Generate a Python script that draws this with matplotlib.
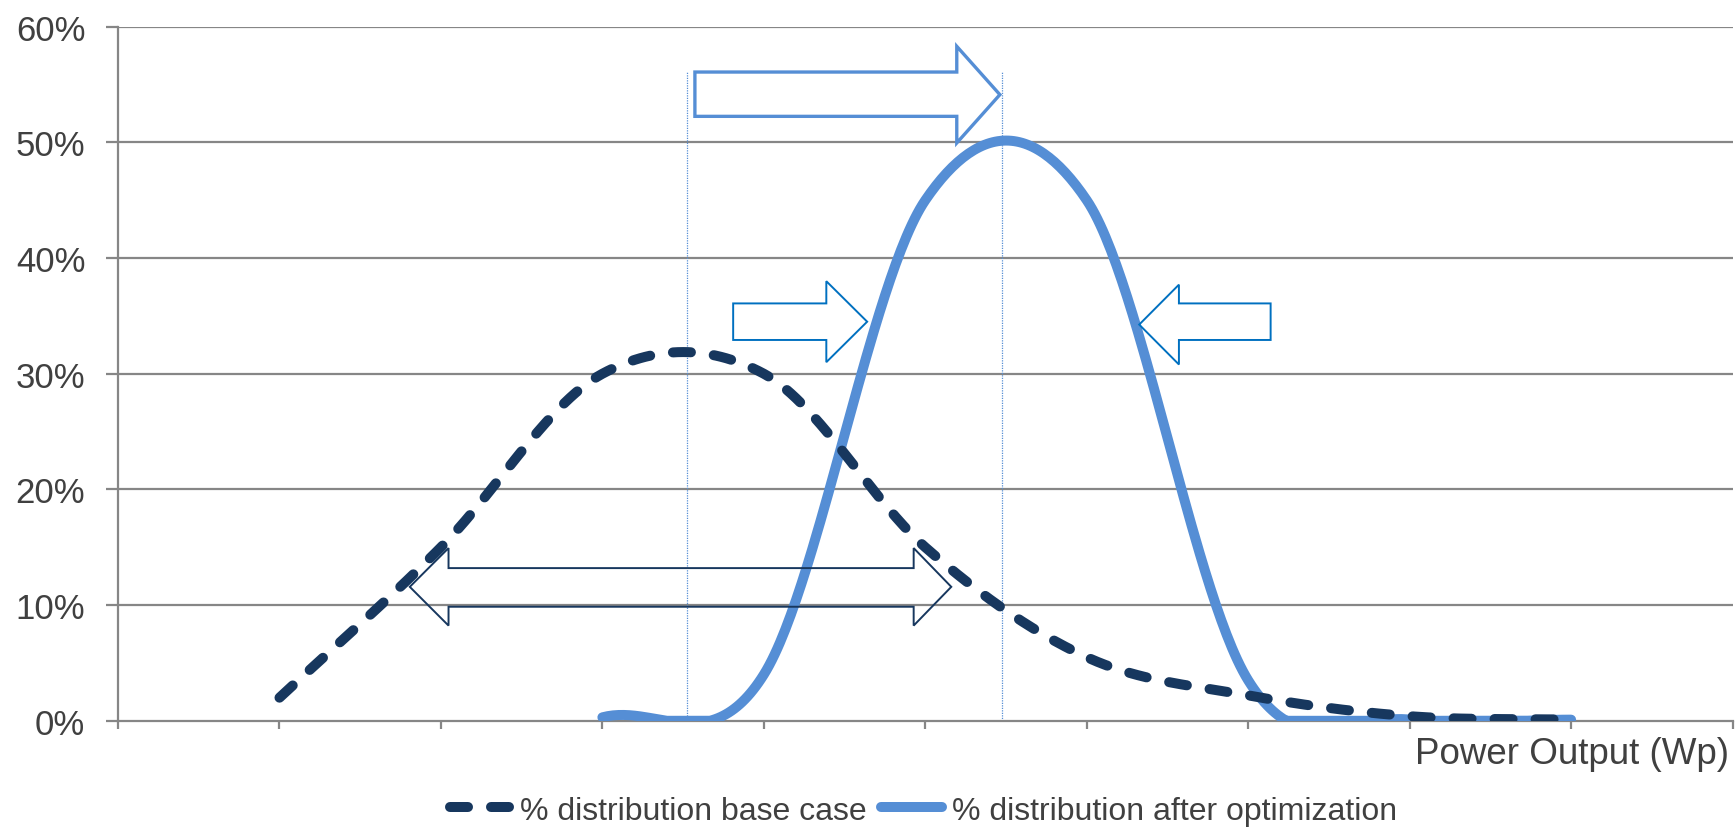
import numpy as np
import matplotlib
matplotlib.use("Agg")
import matplotlib.pyplot as plt
from matplotlib.patches import Polygon
from matplotlib.lines import Line2D

plt.rcParams['font.family'] = ['Liberation Sans', 'DejaVu Sans']

# ---- data ----
x_base = [1, 2, 3, 4, 5, 6, 7, 8, 9]
base_case = [2.0, 15.0, 30.0, 30.0, 15.0, 5.5, 2.2, 0.4, 0.1]          # %
x_opt = [3, 4, 5, 6, 7, 8, 9]
after_opt = [0.3, 4.0, 45.0, 45.0, 3.5, 0.1, 0.1]                       # %
y_ticks = [0, 10, 20, 30, 40, 50, 60]
y_tick_labels = ["0%", "10%", "20%", "30%", "40%", "50%", "60%"]
x_ticks = list(range(0, 11))
series_labels = ["% distribution base case", "% distribution after optimization"]
x_label = "Power Output (Wp)"
mean_base_x = 3.525
mean_opt_x = 5.476

C_DARK = "#17375E"
C_LIGHT = "#558ED5"
C_MID = "#0070C0"
C_GRID = "#868686"
C_TEXT = "#404040"


def smooth(xs, ys, n=60):
    """Excel-style smoothed line (Catmull-Rom / cubic Hermite through points)."""
    xs = np.asarray(xs, float)
    ys = np.asarray(ys, float)
    m = np.zeros_like(ys)
    m[1:-1] = (ys[2:] - ys[:-2]) / (xs[2:] - xs[:-2])
    m[0] = (ys[1] - ys[0]) / (xs[1] - xs[0])
    m[-1] = (ys[-1] - ys[-2]) / (xs[-1] - xs[-2])
    ox, oy = [], []
    for i in range(len(xs) - 1):
        h = xs[i + 1] - xs[i]
        t = np.linspace(0, 1, n, endpoint=(i == len(xs) - 2))
        h00 = 2 * t**3 - 3 * t**2 + 1
        h10 = t**3 - 2 * t**2 + t
        h01 = -2 * t**3 + 3 * t**2
        h11 = t**3 - t**2
        ox.append(xs[i] + t * h)
        oy.append(h00 * ys[i] + h10 * h * m[i] + h01 * ys[i + 1] + h11 * h * m[i + 1])
    return np.concatenate(ox), np.maximum(np.concatenate(oy), 0.0)


def block_arrow(ax, x_start, x_base, x_tip, shaft, head, color, lw, double=False):
    ys0, ys1 = shaft
    yh0, yh1 = head
    ym = (yh0 + yh1) / 2
    if not double:
        verts = [(x_start, ys0), (x_base, ys0), (x_base, yh0), (x_tip, ym),
                 (x_base, yh1), (x_base, ys1), (x_start, ys1)]
    else:
        lb, rb = x_base
        verts = [(x_start, ym), (lb, yh1), (lb, ys1), (rb, ys1), (rb, yh1), (x_tip, ym),
                 (rb, yh0), (rb, ys0), (lb, ys0), (lb, yh0)]
    ax.add_patch(Polygon(verts, closed=True, fill=False, edgecolor=color, lw=lw,
                         joinstyle='miter', zorder=5))


fig = plt.figure(figsize=(17.36, 8.29), dpi=100)
ax = fig.add_axes([0.068, 0.1293, 0.930, 0.8373])

ax.set_xlim(0, 10)
ax.set_ylim(0, 60)

for yv in y_ticks[1:]:
    ax.axhline(yv, color=C_GRID, lw=1.6, zorder=1)

for s in ["top", "right"]:
    ax.spines[s].set_visible(False)
for s in ["left", "bottom"]:
    ax.spines[s].set_color(C_GRID)
    ax.spines[s].set_linewidth(1.6)

ax.set_yticks(y_ticks)
ax.set_yticklabels(y_tick_labels)
ax.set_xticks(x_ticks)
ax.set_xticklabels([])
ax.tick_params(axis='y', length=8.6, width=1.6, color=C_GRID, pad=15,
               labelsize=25, labelcolor=C_TEXT)
ax.tick_params(axis='x', length=6, width=1.6, color=C_GRID)

ax.plot([mean_base_x, mean_base_x], [0, 56.2], color=C_LIGHT, lw=0.9, ls=(0, (1, 1)), zorder=2)
ax.plot([mean_opt_x, mean_opt_x], [0, 56.2], color=C_LIGHT, lw=0.9, ls=(0, (1, 1)), zorder=2)

bx, by = smooth(x_base, base_case)
ox, oy = smooth(x_opt, after_opt)
ax.plot(ox, oy, color=C_LIGHT, lw=7.2, solid_capstyle='round', zorder=3)
ax.plot(bx, by, color=C_DARK, lw=7.2, dashes=(1.8, 2.3), dash_capstyle='round', zorder=4)

block_arrow(ax, 3.573, 5.195, 5.462, (52.25, 56.08), (49.95, 58.3), C_LIGHT, 2.4)
block_arrow(ax, 3.81, 4.387, 4.64, (32.92, 36.08), (31.0, 38.0), C_MID, 1.4)
block_arrow(ax, 7.139, 6.571, 6.325, (32.92, 36.08), (30.8, 37.7), C_MID, 1.4)
block_arrow(ax, 1.807, (2.047, 4.928), 5.161, (9.86, 13.2), (8.23, 14.93), C_DARK, 1.4, double=True)

fig.text(1729 / 1736, 1 - 755 / 829, x_label, ha='right', va='center',
         fontsize=26.5, color=C_TEXT)

handles = [Line2D([], [], color=C_DARK, lw=7.2, dashes=(1.8, 2.3), dash_capstyle='round'),
           Line2D([], [], color=C_LIGHT, lw=7.2, solid_capstyle='round')]
leg = fig.legend(handles, series_labels, loc='center', bbox_to_anchor=(0.532, 0.021),
                 ncol=2, frameon=False, fontsize=23, handlelength=1.9,
                 handletextpad=0.3, columnspacing=0.45, borderpad=0, borderaxespad=0)
for t in leg.get_texts():
    t.set_color(C_TEXT)

fig.savefig("out.png", dpi=100)
